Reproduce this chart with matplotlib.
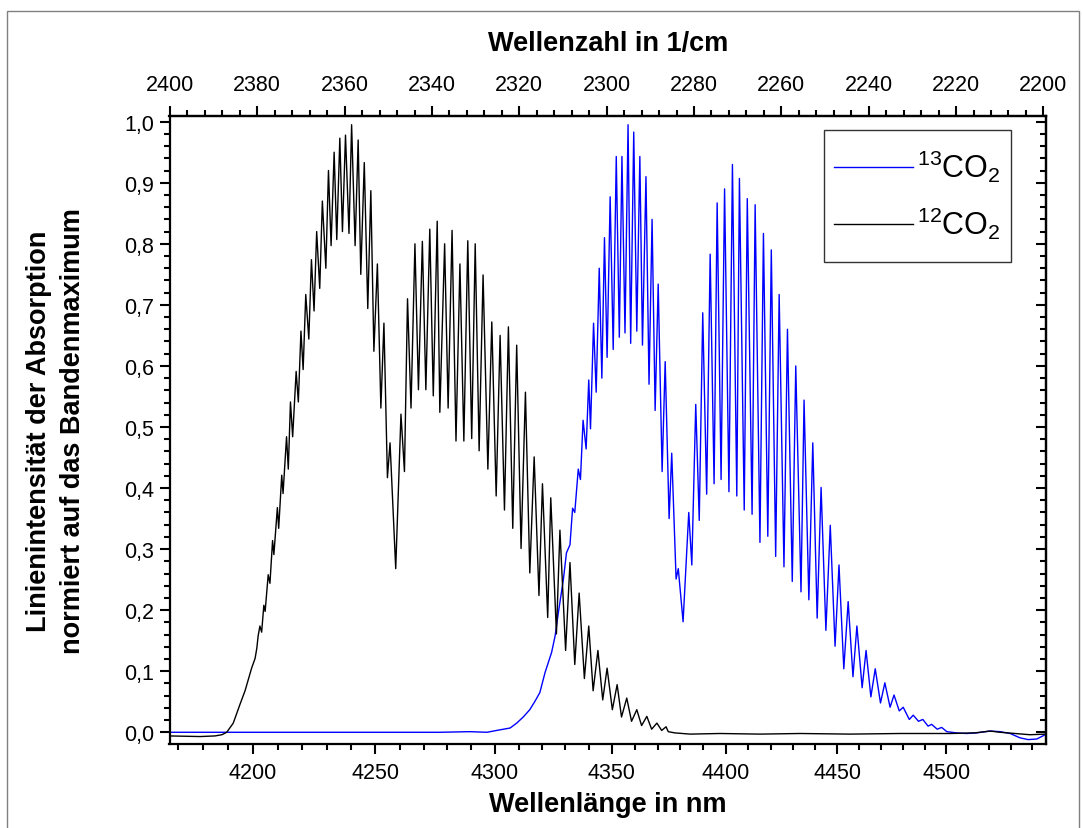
import numpy as np
import matplotlib
matplotlib.use("Agg")
import matplotlib.pyplot as plt
from matplotlib.ticker import FixedLocator, FuncFormatter, MultipleLocator
from matplotlib.patches import Rectangle

plt.rcParams['font.family'] = ['Liberation Sans', 'DejaVu Sans']
plt.rcParams['mathtext.fontset'] = 'custom'
plt.rcParams['mathtext.rm'] = 'Liberation Sans'
plt.rcParams['mathtext.it'] = 'Liberation Sans:italic'
plt.rcParams['mathtext.bf'] = 'Liberation Sans:bold'

# ---------------- data (wavenumber in 1/cm, normalised intensity) ----------------
co2_12_wavenumber = [
    2400.0, 2393.1, 2389.7, 2388.1, 2387.0, 2385.5, 2384.0, 2382.8, 2382.1, 2381.3,
    2380.5, 2380.1, 2379.8, 2379.4, 2379.0, 2378.5, 2378.2, 2377.5, 2377.1, 2376.5,
    2376.2, 2375.4, 2375.1, 2374.4, 2374.1, 2373.3, 2372.9, 2372.4, 2371.9, 2371.1,
    2370.6, 2370.0, 2369.5, 2368.9, 2368.2, 2367.6, 2367.0, 2366.4, 2365.7,
    2365.1, 2364.3, 2363.7, 2363.1, 2362.4, 2361.8, 2361.1, 2360.5, 2359.8, 2359.0,
    2358.4, 2357.6, 2356.9, 2356.3, 2355.5, 2354.7, 2354.0, 2353.3, 2352.5, 2351.7,
    2351.0, 2350.2, 2349.6, 2348.3, 2347.1, 2346.3, 2345.6, 2344.8, 2343.9, 2343.1,
    2342.2, 2341.4, 2340.5, 2339.7, 2338.8, 2338.2,
    2337.1, 2336.3, 2335.4, 2334.5, 2333.6, 2332.7, 2331.8, 2330.9, 2330.1, 2329.2,
    2328.3, 2327.2, 2326.3, 2325.3, 2324.4, 2323.4, 2322.5, 2321.5, 2320.6, 2319.6,
    2318.6, 2317.6, 2316.6, 2315.5, 2314.7, 2313.5, 2312.8, 2311.5, 2310.7,
    2309.4, 2308.4, 2307.3, 2306.3, 2305.1, 2304.1, 2303.1, 2302.0, 2300.9, 2299.9,
    2298.7, 2297.6, 2296.6, 2295.4, 2294.3, 2293.1, 2292.0, 2290.8, 2289.7, 2288.5,
    2287.4, 2286.4, 2285.9,
    2284.4, 2280.9, 2274.1, 2264.9, 2255.7, 2244.3, 2232.8, 2221.4, 2215.7, 2212.2,
    2209.9, 2206.5, 2203.1, 2199.4,
]
co2_12_intensity = [
    -0.006, -0.007, -0.006, -0.004, 0.000, 0.015, 0.045, 0.068, 0.085, 0.105,
    0.121, 0.138, 0.158, 0.174, 0.164, 0.208, 0.198, 0.258, 0.244, 0.314,
    0.291, 0.368, 0.334, 0.421, 0.391, 0.484, 0.431, 0.541, 0.484, 0.591,
    0.541, 0.657, 0.594, 0.717, 0.644, 0.774, 0.690, 0.820, 0.727,
    0.870, 0.760, 0.920, 0.797, 0.950, 0.807, 0.973, 0.820, 0.978, 0.817,
    0.995, 0.797, 0.970, 0.750, 0.933, 0.694, 0.887, 0.624, 0.767, 0.531,
    0.670, 0.417, 0.474, 0.268, 0.521, 0.427, 0.710, 0.531, 0.800, 0.561,
    0.804, 0.561, 0.824, 0.551, 0.837, 0.524,
    0.800, 0.531, 0.822, 0.477, 0.767, 0.477, 0.805, 0.481, 0.800, 0.461,
    0.749, 0.431, 0.672, 0.387, 0.650, 0.364, 0.664, 0.334, 0.634, 0.301,
    0.557, 0.261, 0.451, 0.224, 0.407, 0.188, 0.384, 0.161, 0.331,
    0.134, 0.278, 0.111, 0.228, 0.088, 0.174, 0.068, 0.134, 0.053, 0.105,
    0.037, 0.078, 0.025, 0.056, 0.018, 0.037, 0.011, 0.026, 0.005, 0.015,
    0.003, 0.009, 0.001,
    -0.001, -0.003, -0.002, -0.003, -0.002, -0.003, -0.002, -0.002, -0.001, 0.002,
    0.000, -0.002, -0.004, -0.003,
]

co2_13_wavenumber = [
    2400.0, 2338.2, 2331.3, 2327.4, 2325.2, 2322.1, 2320.6, 2319.1, 2317.6, 2316.4,
    2315.3, 2314.1, 2312.6, 2311.8, 2311.1, 2309.9, 2309.2, 2308.4, 2307.8, 2307.3,
    2306.5, 2306.0, 2305.4, 2304.7, 2304.1, 2303.7, 2303.0, 2302.4, 2301.7, 2301.1,
    2300.5, 2299.9, 2299.2, 2298.5, 2297.8, 2297.1, 2296.5, 2295.8, 2295.1, 2294.5,
    2293.8, 2293.1, 2292.4, 2291.8, 2291.0, 2290.3, 2289.6, 2288.9, 2288.2, 2287.3,
    2286.6, 2285.7, 2285.1, 2284.1, 2283.6, 2282.5, 2281.2, 2280.5, 2279.6, 2278.8,
    2278.0, 2277.1, 2276.3, 2275.4, 2274.7, 2273.8, 2273.0, 2272.0, 2271.2, 2270.2,
    2269.6, 2268.5, 2267.8, 2266.7, 2266.0, 2264.9, 2264.1, 2263.1, 2262.3, 2261.3,
    2260.5, 2259.4, 2258.6, 2257.5, 2256.7, 2255.5, 2254.8, 2253.7, 2252.8, 2251.8,
    2250.9, 2249.8, 2248.8, 2247.7, 2246.8, 2245.7, 2244.7, 2243.6, 2242.7, 2241.5,
    2240.6, 2239.5, 2238.5, 2237.3, 2236.3, 2235.1, 2234.2, 2233.0, 2232.1, 2230.7,
    2229.8, 2228.6, 2227.6, 2226.4, 2225.6, 2224.3, 2223.3, 2222.1, 2219.9, 2217.6,
    2215.3, 2212.2, 2209.9, 2207.6, 2205.4, 2203.5, 2201.5, 2199.6,
]
co2_13_intensity = [
    0.000, 0.000, 0.001, 0.000, 0.003, 0.007, 0.015, 0.025, 0.037, 0.051,
    0.065, 0.098, 0.131, 0.158, 0.194, 0.251, 0.294, 0.307, 0.367, 0.360,
    0.431, 0.414, 0.511, 0.464, 0.577, 0.497, 0.670, 0.557, 0.760, 0.580,
    0.810, 0.614, 0.877, 0.627, 0.943, 0.647, 0.943, 0.654, 0.995, 0.637,
    0.983, 0.657, 0.943, 0.634, 0.910, 0.570, 0.840, 0.527, 0.734, 0.427,
    0.607, 0.350, 0.457, 0.251, 0.268, 0.181, 0.360, 0.274, 0.537, 0.347,
    0.687, 0.390, 0.783, 0.407, 0.867, 0.414, 0.890, 0.394, 0.930, 0.387,
    0.907, 0.364, 0.874, 0.357, 0.864, 0.311, 0.817, 0.321, 0.790, 0.288,
    0.717, 0.271, 0.660, 0.247, 0.600, 0.230, 0.544, 0.217, 0.474, 0.187,
    0.401, 0.167, 0.339, 0.141, 0.274, 0.104, 0.214, 0.091, 0.174, 0.073,
    0.134, 0.058, 0.104, 0.048, 0.081, 0.041, 0.061, 0.035, 0.041, 0.021,
    0.028, 0.018, 0.021, 0.010, 0.013, 0.005, 0.008, 0.001, -0.001, -0.002,
    -0.001, 0.002, 0.001, -0.002, -0.009, -0.012, -0.011, -0.004,
]

series_labels = [r'$^{13}$CO$_{2}$', r'$^{12}$CO$_{2}$']
series_colors = ['#0000ff', '#000000']

wavelength_ticks = [4200, 4250, 4300, 4350, 4400, 4450, 4500]
wavelength_minor = list(range(4170, 4550, 10))
wavenumber_ticks = list(range(2400, 2199, -20))
wavenumber_minor = list(range(2400, 2199, -4))
intensity_ticks = [round(0.1 * i, 1) for i in range(11)]

# ---------------- figure ----------------
W, H = 1083, 829
fig = plt.figure(figsize=(W / 100, H / 100), dpi=100)
ax = fig.add_axes([169.5 / W, 1 - 745 / H, (1046 - 169.5) / W, (745 - 116.7) / H])

ax.plot(co2_13_wavenumber, co2_13_intensity, color=series_colors[0], lw=1.0, label=series_labels[0])
ax.plot(co2_12_wavenumber, co2_12_intensity, color=series_colors[1], lw=1.0, label=series_labels[1])

ax.set_xlim(2400.1, 2199.4)
ax.set_ylim(-0.0192, 1.0098)

tick_fs = 15.5
label_fs = 19.5

# bottom axis: wavelength (nm) on reciprocal positions
ax.xaxis.set_major_locator(FixedLocator([1e7 / n for n in wavelength_ticks]))
ax.xaxis.set_minor_locator(FixedLocator([1e7 / n for n in wavelength_minor]))
ax.set_xticklabels([str(n) for n in wavelength_ticks])
ax.tick_params(axis='x', which='major', direction='out', length=7, width=1.5, labelsize=tick_fs, pad=6)
ax.tick_params(axis='x', which='minor', direction='out', length=4, width=1.5)
ax.set_xlabel('Wellenlänge in nm', fontsize=label_fs, fontweight='bold', labelpad=6)

# left axis
ax.yaxis.set_major_locator(FixedLocator(intensity_ticks))
ax.yaxis.set_minor_locator(MultipleLocator(0.02))
ax.yaxis.set_major_formatter(FuncFormatter(lambda v, p: f"{v:.1f}".replace('.', ',')))
ax.tick_params(axis='y', which='major', direction='out', length=7, width=1.5, labelsize=tick_fs, pad=4)
ax.tick_params(axis='y', which='minor', direction='out', length=4, width=1.5)

for s in ax.spines.values():
    s.set_linewidth(1.6)

# top axis: wavenumber
top = ax.secondary_xaxis('top')
top.xaxis.set_major_locator(FixedLocator(wavenumber_ticks))
top.xaxis.set_minor_locator(FixedLocator(wavenumber_minor))
top.tick_params(axis='x', which='major', direction='out', length=7, width=1.5, labelsize=tick_fs, pad=8)
top.tick_params(axis='x', which='minor', direction='out', length=4, width=1.5)
top.set_xlabel('Wellenzahl in 1/cm', fontsize=label_fs, fontweight='bold', labelpad=17)
top.spines['top'].set_linewidth(1.6)

# right axis: inward ticks, no labels
right = ax.secondary_yaxis('right')
right.yaxis.set_major_locator(FixedLocator(intensity_ticks))
right.yaxis.set_minor_locator(MultipleLocator(0.02))
right.tick_params(axis='y', which='major', direction='in', length=7, width=1.5, labelright=False)
right.tick_params(axis='y', which='minor', direction='in', length=4, width=1.5)
right.spines['right'].set_linewidth(1.6)

# y label (two lines)
fig.text(56 / W, 1 - 431 / H,
         'Linienintensität der Absorption\nnormiert auf das Bandenmaximum',
         rotation=90, ha='center', va='center', multialignment='center',
         fontsize=label_fs, fontweight='bold', linespacing=1.4)

leg = ax.legend(loc='upper right', bbox_to_anchor=(1011 / W, 1 - 131 / H),
                bbox_transform=fig.transFigure, fontsize=22, frameon=True,
                fancybox=False, edgecolor='black', handlelength=2.6,
                handleheight=2.4, handletextpad=0.13, labelspacing=0.05,
                borderpad=0.33, borderaxespad=0)
leg.get_frame().set_linewidth(1.0)
for line in leg.get_lines():
    line.set_linewidth(1.0)
    line.set_ydata(np.asarray(line.get_ydata(), dtype=float) - 6)

# outer page frame
fig.add_artist(Rectangle((7 / W, -0.02), (1079 - 7) / W, 1 - 12 / H + 0.02,
                         transform=fig.transFigure, fill=False,
                         edgecolor='#808080', lw=1.0))

fig.savefig('out.png', dpi=100)
